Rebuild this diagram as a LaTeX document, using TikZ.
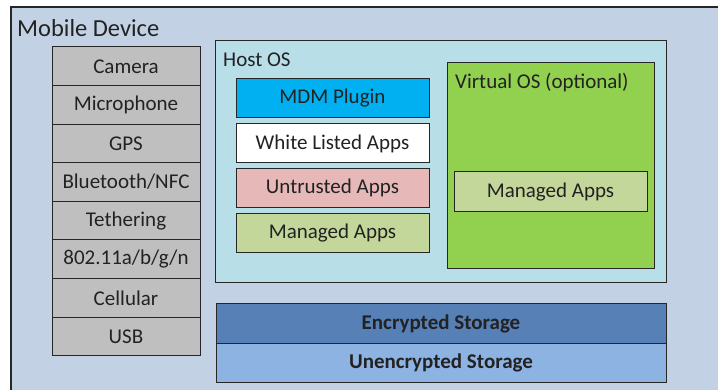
\documentclass[tikz,border=0pt]{standalone}
\usepackage{fontspec}
\setmainfont{Carlito}
\definecolor{devbg}{HTML}{C2D2E4}
\definecolor{hostbg}{HTML}{B8DEE8}
\definecolor{vosbg}{HTML}{92D050}
\definecolor{managedbg}{HTML}{C4D79B}
\definecolor{untrustedbg}{HTML}{E6B9B8}
\definecolor{mdmbg}{HTML}{00B0F0}
\definecolor{hwbg}{HTML}{BFBFBF}
\definecolor{encbg}{HTML}{5680B6}
\definecolor{unencbg}{HTML}{8DB3E2}
\definecolor{edgecol}{HTML}{262626}
\definecolor{txt}{HTML}{222222}
\newcommand{\boxfont}{\fontsize{21}{25}\selectfont}
\newcommand{\titlefont}{\fontsize{24.5}{29}\selectfont}
\begin{document}
\begin{tikzpicture}[x=1pt,y=-1pt,
  boxbase/.style={draw=edgecol, line width=1pt, rectangle, inner sep=0pt, text=txt, font=\boxfont},
  hwbox/.style={boxbase, fill=hwbg, minimum width=148pt, minimum height=38.6pt},
  appbox/.style={boxbase, minimum width=193pt, minimum height=39pt},
  storebox/.style={boxbase, minimum width=450pt, minimum height=39pt, font=\boxfont\bfseries},
  area/.style={boxbase},
  caption/.style={anchor=base west, inner sep=0pt, text=txt, font=\boxfont}]
\useasboundingbox (0,0) rectangle (718,390);
\fill[white] (0,0) rectangle (718,390);
% device enclosure, running off the right and bottom edges
\fill[devbg] (11,7) rectangle (718,390);
\draw[edgecol, line width=1.3pt] (11,390) -- (11,7) -- (718,7);
\node[caption, font=\titlefont] (devlabel) at (17,37) {Mobile Device};

% hardware interfaces
\node[hwbox] (cam)  at (126,66.3)  {Camera};
\node[hwbox] (mic)  at (126,104.9) {Microphone};
\node[hwbox] (gps)  at (126,143.5) {GPS};
\node[hwbox] (bt)   at (126,182.1) {Bluetooth/NFC};
\node[hwbox] (teth) at (126,220.7) {Tethering};
\node[hwbox] (wifi) at (126,259.3) {802.11a/b/g/n};
\node[hwbox] (cell) at (126,297.9) {Cellular};
\node[hwbox] (usb)  at (126,336.5) {USB};

% host operating system
\node[area, fill=hostbg, minimum width=451pt, minimum height=242pt] (host) at (440.5,162) {};
\node[caption] (hostlabel) at (223,67) {Host OS};
\node[appbox, fill=mdmbg] (mdm) at (332.5,98) {MDM Plugin};
\node[appbox, fill=white] (white) at (332.5,143.5) {White Listed Apps};
\node[appbox, fill=untrustedbg] (untrusted) at (332.5,188) {Untrusted Apps};
\node[appbox, fill=managedbg] (managed) at (332.5,233.5) {Managed Apps};

% virtual operating system
\node[area, fill=vosbg, minimum width=207pt, minimum height=206pt] (vos) at (550.5,166) {};
\node[caption] (voslabel) at (455,89) {Virtual OS (optional)};
\node[appbox, fill=managedbg, minimum height=40pt] (vmanaged) at (550.5,192) {Managed Apps};

% storage
\node[storebox, fill=encbg] (enc) at (441,323.5) {Encrypted Storage};
\node[storebox, fill=unencbg] (unenc) at (441,362.5) {Unencrypted Storage};
\end{tikzpicture}
\end{document}
